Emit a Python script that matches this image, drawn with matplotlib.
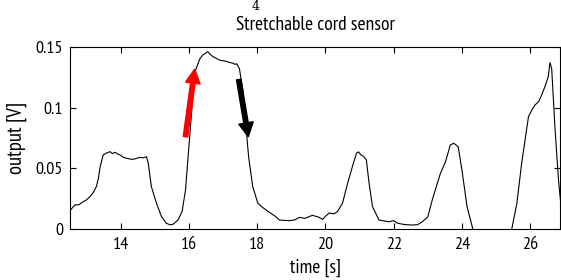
import matplotlib
matplotlib.use("Agg")
import matplotlib.pyplot as plt

plt.rcParams['font.family'] = ['PT Sans Narrow', 'Liberation Sans', 'DejaVu Sans']

# sensor output
time_s = [12.53, 12.66, 12.78, 12.9, 13.0, 13.1, 13.2, 13.29, 13.35, 13.4, 13.49, 13.58, 13.69,
          13.76, 13.83, 13.9, 13.98, 14.08, 14.18, 14.28, 14.37, 14.45, 14.56, 14.66, 14.76,
          14.81, 14.9, 15.05, 15.2, 15.34, 15.45, 15.54, 15.68, 15.8, 15.9, 16.0, 16.1, 16.2,
          16.32, 16.41, 16.48, 16.55, 16.62, 16.7, 16.8, 16.9, 17.0, 17.1, 17.2, 17.29, 17.35,
          17.4, 17.48, 17.58, 17.68, 17.75, 17.87, 18.02, 18.15, 18.26, 18.4, 18.55, 18.65,
          18.94, 19.1, 19.24, 19.4, 19.62, 19.8, 19.92, 20.0, 20.11, 20.25, 20.35, 20.5, 20.65,
          20.79, 20.91, 20.97, 21.04, 21.12, 21.2, 21.28, 21.38, 21.57, 21.7, 21.86, 22.0,
          22.1, 22.25, 22.4, 22.54, 22.7, 22.84, 23.0, 23.13, 23.25, 23.37, 23.52, 23.66,
          23.76, 23.89, 24.0, 24.15, 24.32, 24.6, 25.0, 25.3, 25.46, 25.61, 25.75, 25.95,
          26.05, 26.14, 26.25, 26.33, 26.43, 26.53, 26.58, 26.63, 26.73, 26.83, 26.9]
output_v = [0.0157, 0.0198, 0.020, 0.0225, 0.024, 0.0266, 0.030, 0.035, 0.042, 0.0513, 0.061,
            0.0625, 0.0637, 0.062, 0.0632, 0.062, 0.061, 0.059, 0.0582, 0.0576, 0.0574, 0.058,
            0.059, 0.0586, 0.0595, 0.054, 0.035, 0.0212, 0.0101, 0.0047, 0.0035, 0.004, 0.0074,
            0.0143, 0.032, 0.0678, 0.1035, 0.131, 0.14, 0.1433, 0.1445, 0.146, 0.144, 0.142,
            0.1405, 0.139, 0.1385, 0.138, 0.137, 0.1365, 0.1355, 0.136, 0.132, 0.1145, 0.0815,
            0.0595, 0.035, 0.0212, 0.018, 0.0157, 0.013, 0.0101, 0.0074, 0.0069, 0.0075, 0.0096,
            0.0088, 0.0113, 0.0098, 0.008, 0.0105, 0.0132, 0.0125, 0.0143, 0.0212, 0.0376,
            0.0513, 0.0624, 0.0635, 0.061, 0.0598, 0.0568, 0.0376, 0.0184, 0.0074, 0.0068,
            0.006, 0.0069, 0.005, 0.004, 0.0035, 0.0033, 0.0036, 0.006, 0.010, 0.0239, 0.035,
            0.0458, 0.0555, 0.0692, 0.0706, 0.0678, 0.0486, 0.0184, 0.0, -0.02, -0.03, -0.02,
            0.0, 0.0212, 0.054, 0.0925, 0.098, 0.102, 0.105, 0.110, 0.117, 0.1255, 0.137, 0.132,
            0.0815, 0.040, 0.02]

x_ticks = [14, 16, 18, 20, 22, 24, 26]
y_ticks = [0, 0.05, 0.1, 0.15]
y_labels = ['0', '0.05', '0.1', '0.15']

# arrows: (tail, tip) in data units
red_arrow = ((15.9, 0.076), (16.17, 0.1315))
black_arrow = ((17.46, 0.123), (17.74, 0.076))

fig = plt.figure(figsize=(5.61, 2.8), dpi=100)
ax = fig.add_axes([0.125, 0.182, 0.873, 0.651])

ax.plot(time_s, output_v, color='black', lw=0.8)

for (tail, tip), col in [(red_arrow, 'red'), (black_arrow, 'black')]:
    ax.annotate('', xy=tip, xytext=tail,
                arrowprops=dict(facecolor=col, edgecolor=col, width=3.2,
                                headwidth=10.5, headlength=10, shrink=0))

ax.set_xlim(12.52, 26.87)
ax.set_ylim(0, 0.15)
ax.set_xticks(x_ticks)
ax.set_yticks(y_ticks)
ax.set_yticklabels(y_labels)
ax.tick_params(direction='in', top=True, right=True, length=4, labelsize=13)
ax.tick_params(axis='x', pad=6)
ax.tick_params(axis='y', pad=5)
for s in ax.spines.values():
    s.set_linewidth(0.8)

ax.set_title('Stretchable cord sensor', fontsize=14, pad=12)
ax.set_xlabel('time [s]', fontsize=14, labelpad=4)
ax.set_ylabel('output [V]', fontsize=15, labelpad=6)

# page number at the top edge
fig.text(0.455, 1.0, '4', family='serif', fontsize=9, ha='center', va='top')

fig.savefig('out.png', dpi=100)
